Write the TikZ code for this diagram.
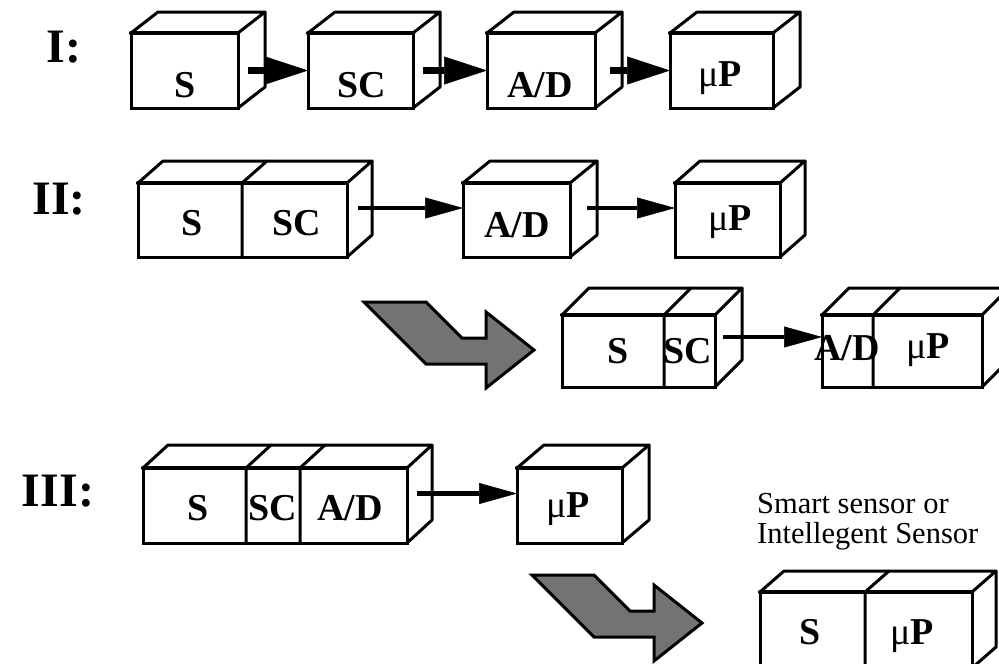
\documentclass[tikz,border=0pt]{standalone}
\usepackage{fontspec}
\setmainfont{Liberation Serif}
\usetikzlibrary{arrows.meta}
\tikzset{
  face/.style={draw, line width=3pt, inner sep=0pt, outer sep=0pt, anchor=north west},
  edge/.style={line width=3pt, line join=round, line cap=round},
  topedge/.style={line width=4.2pt, line cap=round},
  lbl/.style={font=\fontsize{38}{40}\selectfont\bfseries, inner sep=0pt, anchor=base},
  rowlbl/.style={font=\fontsize{48}{50}\selectfont\bfseries, inner sep=0pt, anchor=base},
  note/.style={font=\fontsize{30.5}{30}\selectfont, inner sep=0pt, anchor=base west},
  bigarr/.style={line width=7pt, -{Triangle[length=43pt,width=28pt,line width=0.5pt]}},
  arr/.style={line width=4.5pt, -{Triangle[length=38pt,width=21pt,line width=0.5pt]}},
  shadearrow/.style={fill=black!55, draw, line width=3pt, line join=miter},
}
% name, x, ytop, width, height, dx, dy
\newcommand\mycube[7]{%
  \node[face, minimum width=#4pt, minimum height=#5pt] (#1) at (#2,-#3) {};
  \draw[edge] (#1.north west) -- ++(#6,#7) -- ++(#4,0) -- (#1.north east);
  \draw[edge] (#1.north east) ++(#6,#7) -- ++(0,-#5) -- (#1.south east);
  \draw[topedge] (#1.north west) -- (#1.north east);
}
% x, ytop, ybottom, dx, dy
\newcommand\mydiv[5]{\draw[edge] (#1,-#3) -- (#1,-#2) -- ++(#4,#5);}
\newcommand\mup{{\mdseries μ}P}
\begin{document}
\begin{tikzpicture}[x=1pt,y=1pt]
\useasboundingbox (0,0) rectangle (999,-664);
\clip (0,0) rectangle (999,-664);
\fill[white] (0,0) rectangle (999,-664);

% Row labels
\node[rowlbl] (lI) at (64,-62) {I:};
\node[rowlbl] (lII) at (59,-214) {II:};
\node[rowlbl] (lIII) at (58,-506) {III:};

% Row I
\mycube{s1}{131}{33}{107}{75}{27}{21}
\mycube{sc1}{308}{33}{105}{75}{27}{21}
\mycube{ad1}{487}{33}{108}{75}{27}{21}
\mycube{mp1}{670}{33}{103}{75}{27}{21}
\node[lbl] (ts1) at (185,-97) {S};
\node[lbl] (tsc1) at (362,-97) {SC};
\node[lbl] (tad1) at (540,-97) {A/D};
\node[lbl] (tmp1) at (720,-86) {\mup};
\draw[bigarr] ([xshift=10pt]s1.east) -- (sc1.west);
\draw[bigarr] ([xshift=10pt]sc1.east) -- (ad1.west);
\draw[bigarr] ([xshift=15pt]ad1.east) -- (mp1.west);

% Row II
\mycube{ssc2}{138}{183}{209}{74}{25}{22}
\mydiv{242}{183}{257}{25}{22}
\mycube{ad2}{463}{183}{107}{74}{27}{22}
\mycube{mp2}{675}{183}{105}{74}{25}{22}
\node[lbl] (ts2) at (192,-235) {S};
\node[lbl] (tsc2) at (297,-235) {SC};
\node[lbl] (tad2) at (517,-237) {A/D};
\node[lbl] (tmp2) at (730,-230) {\mup};
\draw[arr] ([shift={(11pt,12pt)}]ssc2.east) -- ([yshift=12pt]ad2.west);
\draw[arr] ([shift={(17pt,12pt)}]ad2.east) -- ([yshift=12pt]mp2.west);

% Row II result
\draw[shadearrow] (364,-302) -- ++(62,0) -- ++(36,-36) -- ++(24,0) -- ++(0,26)
  -- ++(48,-38) -- ++(-48,-38) -- ++(0,24) -- ++(-60,0) -- cycle;
\mycube{ssc3}{562}{315}{153}{72}{27}{27}
\mydiv{664}{315}{387}{27}{27}
\mycube{admp3}{822}{315}{160}{72}{27}{27}
\mydiv{873}{315}{387}{27}{27}
\node[lbl] (ts3) at (618,-363) {S};
\node[lbl] (tsc3) at (688,-363) {SC};
\node[lbl] (tad3) at (847,-360) {A/D};
\node[lbl] (tmp3) at (928,-358) {\mup};
\draw[arr] ([shift={(8pt,14pt)}]ssc3.east) -- ([yshift=14pt]admp3.west);

% Row III
\mycube{big4}{143}{468}{264}{75}{25}{23}
\mydiv{246}{468}{543}{25}{23}
\mydiv{300}{468}{543}{25}{23}
\mycube{mp4}{517}{468}{105}{75}{27}{23}
\node[lbl] (ts4) at (198,-520) {S};
\node[lbl] (tsc4) at (273,-520) {SC};
\node[lbl] (tad4) at (350,-520) {A/D};
\node[lbl] (tmp4) at (568,-517) {\mup};
\draw[arr] ([shift={(10pt,12pt)}]big4.east) -- ([yshift=12pt]mp4.west);

% Row III result
\draw[shadearrow] (532,-575) -- ++(62,0) -- ++(36,-36) -- ++(24,0) -- ++(0,26)
  -- ++(48,-38) -- ++(-48,-38) -- ++(0,24) -- ++(-60,0) -- cycle;
\node[note] (n1) at (757,-513) {Smart sensor or};
\node[note] (n2) at (757,-543) {Intellegent Sensor};
\mycube{smp5}{760}{592}{212}{76}{24}{21}
\mydiv{865}{592}{670}{24}{21}
\node[lbl] (ts5) at (810,-644) {S};
\node[lbl] (tmp5) at (912,-644) {\mup};
\end{tikzpicture}
\end{document}
